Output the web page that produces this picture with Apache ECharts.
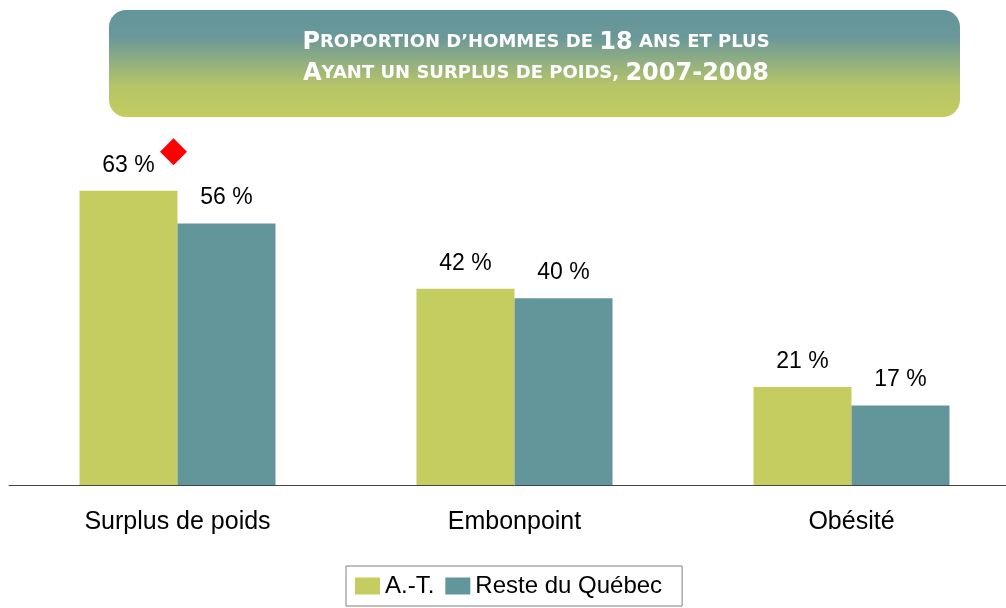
<!DOCTYPE html>
<html lang="fr">
  <head>
    <meta charset="UTF-8" />
    <title>Surplus de poids</title>
    <script src="https://cdn.jsdelivr.net/npm/echarts@6/dist/echarts.min.js"></script>
    <style>
      body { margin: 0; background: #fff; overflow: hidden; }
      /* the axis runs past the right edge of the picture */
      #chart { width: 1020px; height: 608px; }
    </style>
  </head>
  <body>
    <div id="chart"></div>
    <script>
      var categories = ["Surplus de poids", "Embonpoint", "Obésité"];
      var seriesNames = ["A.-T.", "Reste du Québec"];
      var atValues = [63, 42, 21];
      var quebecValues = [56, 40, 17];
      // écart significatif (losange rouge)
      var significant = [true, false, false];

      var mChart = echarts.init(document.getElementById("chart"));

      var markerData = atValues.map(function (v, i) {
        return significant[i] ? v : null;
      });

      var labelFont = "Liberation Sans, Arial, sans-serif";

      mChart.setOption({
        animation: false,
        graphic: [
          {
            type: "rect",
            shape: { x: 109, y: 10, width: 851, height: 107, r: 17 },
            style: {
              fill: new echarts.graphic.LinearGradient(0, 0, 0, 1, [
                { offset: 0, color: "#64959a" },
                { offset: 0.25, color: "#6a989a" },
                { offset: 0.7, color: "#b5c468" },
                { offset: 1, color: "#c4cc5f" },
              ]),
            },
            z: 1,
          },
          {
            type: "text",
            x: 536,
            y: 58,
            z: 2,
            style: {
              text:
                "{b|P}{s|ROPORTION D’HOMMES DE }{b|18}{s| ANS ET PLUS}\n" +
                "{b|A}{s|YANT UN SURPLUS DE POIDS, }{b|2007-2008}",
              align: "center",
              verticalAlign: "middle",
              fill: "#fff",
              rich: {
                b: {
                  fontFamily: "DejaVu Sans",
                  fontWeight: "bold",
                  fontSize: 24,
                  lineHeight: 31,
                  fill: "#fff",
                },
                s: {
                  fontFamily: "DejaVu Sans",
                  fontWeight: "bold",
                  fontSize: 18,
                  lineHeight: 31,
                  fill: "#fff",
                },
              },
            },
          },
        ],
        legend: {
          data: seriesNames,
          left: 346,
          top: 566,
          padding: [8, 20, 8, 9],
          borderColor: "#808080",
          borderWidth: 1,
          itemGap: 11,
          itemWidth: 25,
          itemHeight: 17,
          icon: "rect",
          textStyle: { fontFamily: labelFont, fontSize: 24, color: "#000" },
        },
        grid: { left: 9, right: 0, top: 158, bottom: 123 },
        xAxis: {
          type: "category",
          data: categories,
          axisTick: { show: false },
          axisLine: { lineStyle: { color: "#444", width: 1 } },
          axisLabel: {
            fontFamily: labelFont,
            fontSize: 25,
            color: "#000",
            margin: 25,
          },
        },
        yAxis: {
          type: "value",
          min: 0,
          max: 70,
          show: false,
        },
        series: [
          {
            name: seriesNames[0],
            type: "bar",
            data: atValues,
            barWidth: 98,
            barGap: "0%",
            itemStyle: { color: "#c5cc60" },
            label: {
              show: true,
              position: "top",
              distance: 14,
              formatter: "{c} %",
              fontFamily: labelFont,
              fontSize: 23,
              color: "#000",
            },
          },
          {
            name: seriesNames[1],
            type: "bar",
            data: quebecValues,
            barWidth: 98,
            barGap: "0%",
            itemStyle: { color: "#62969b" },
            label: {
              show: true,
              position: "top",
              distance: 14,
              formatter: "{c} %",
              fontFamily: labelFont,
              fontSize: 23,
              color: "#000",
            },
          },
          {
            name: "signif",
            type: "scatter",
            data: markerData,
            symbol: "diamond",
            symbolSize: [27, 27],
            symbolOffset: [-4, -39],
            itemStyle: { color: "#ff0000", opacity: 1 },
            silent: true,
            z: 5,
          },
        ],
      });
    </script>
  </body>
</html>
